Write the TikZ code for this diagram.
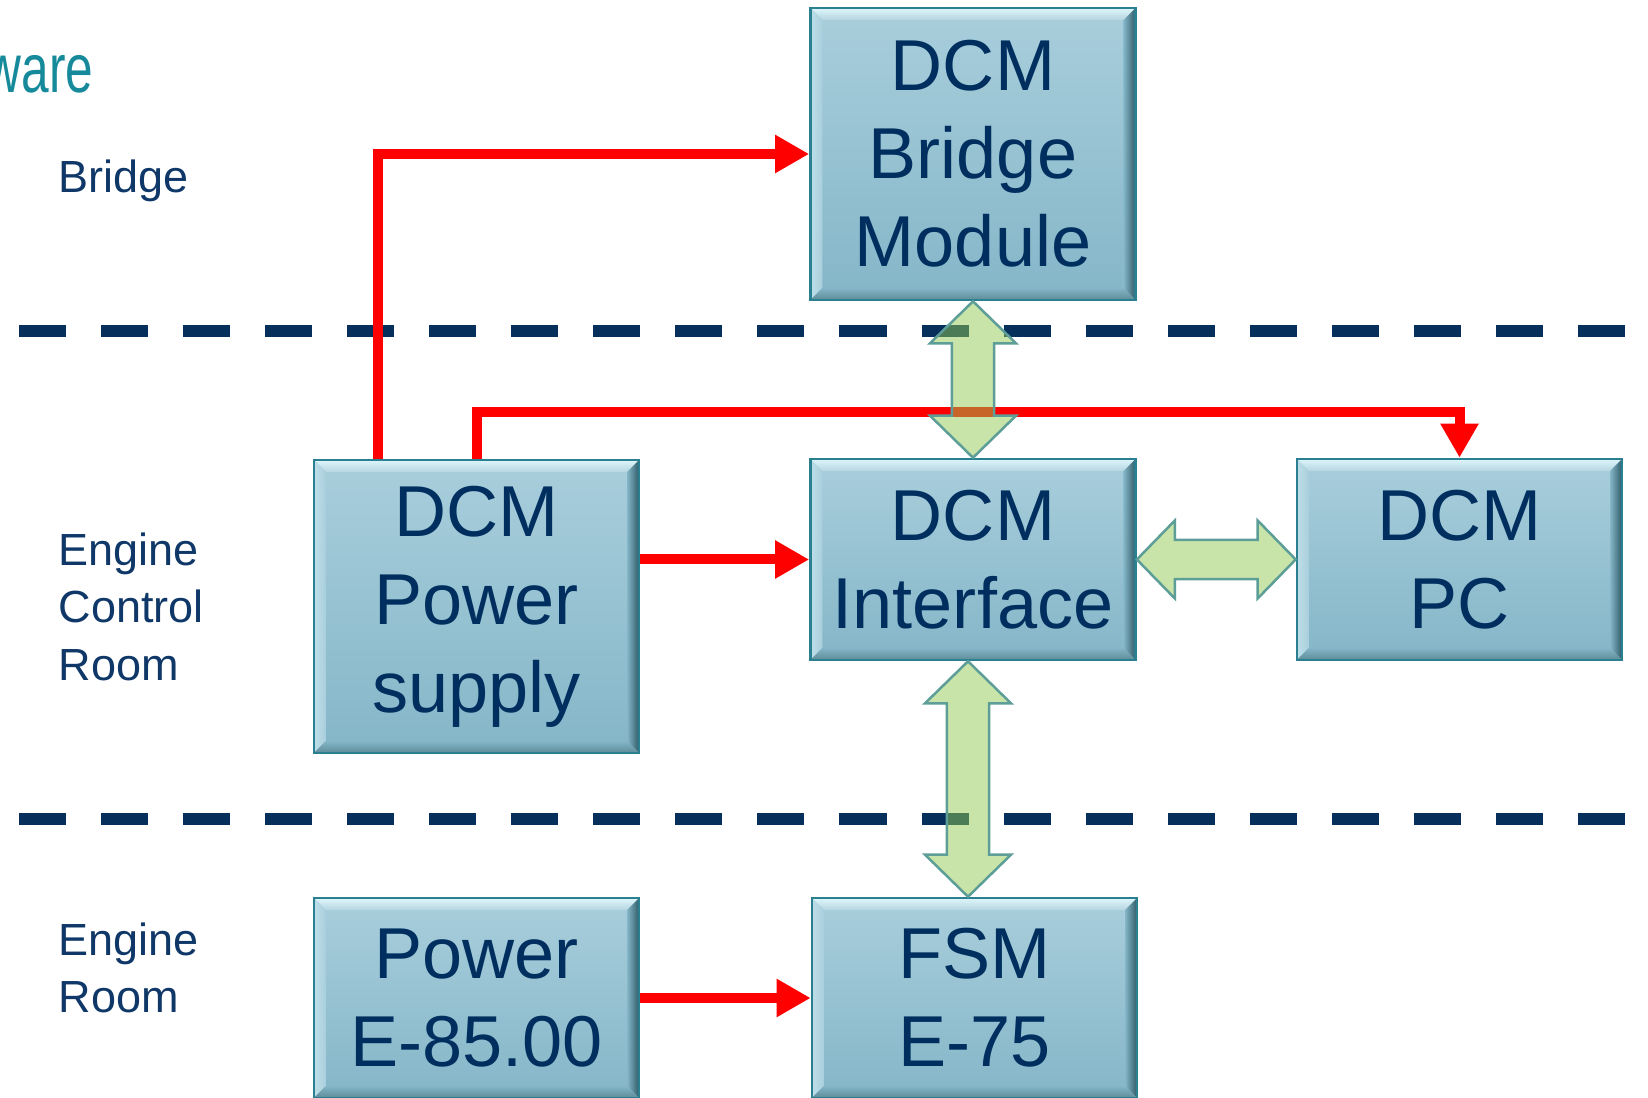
\documentclass[tikz,border=0pt]{standalone}
\usepackage{fontspec}
\setmainfont{Liberation Sans}
\newfontfamily\titlefont[FakeStretch=0.72]{Liberation Sans}
\usepackage{xcolor}
\usepackage{tikz}
\usetikzlibrary{arrows.meta, calc}

\definecolor{boxtop}{HTML}{A9CEDC}
\definecolor{boxbottom}{HTML}{84B6C8}
\definecolor{boxedge}{HTML}{2A8090}
\definecolor{boxtext}{HTML}{002F5F}
\definecolor{bevellight}{HTML}{DDF6FB}
\definecolor{bevelleft}{HTML}{BEDFE9}
\definecolor{bevelshade}{HTML}{2F5A66}
\definecolor{beveldark}{HTML}{5D8A96}
\definecolor{zonetext}{HTML}{0F3868}
\definecolor{titleteal}{HTML}{168A9B}
\definecolor{zoneline}{HTML}{062F5C}
\definecolor{linkgreen}{HTML}{91C951}
\definecolor{linkedge}{HTML}{5E9E98}

\newcommand\boxfont{\fontsize{20.5}{25}\selectfont}
\newcommand\zonefont{\fontsize{12.8}{16.35}\selectfont}

\tikzset{
  dcmbox/.style={draw=boxedge, line width=0.025cm, top color=boxtop, bottom color=boxbottom,
    minimum width=3.25cm, inner sep=0pt, align=center, text=boxtext, font=\boxfont,
    path picture={
      \coordinate (bnw) at (path picture bounding box.north west);
      \coordinate (bne) at (path picture bounding box.north east);
      \coordinate (bsw) at (path picture bounding box.south west);
      \coordinate (bse) at (path picture bounding box.south east);
      % bevelled rim
      \shade[top color=bevellight, bottom color=boxtop!85!white]
        (bnw) -- (bne) -- ([shift={(-0.12cm,-0.12cm)}]bne) -- ([shift={(0.12cm,-0.12cm)}]bnw) -- cycle;
      \shade[left color=bevelleft, right color=boxtop]
        (bnw) -- (bsw) -- ([shift={(0.12cm,0.12cm)}]bsw) -- ([shift={(0.12cm,-0.12cm)}]bnw) -- cycle;
      \shade[left color=boxbottom, right color=bevelshade]
        (bne) -- (bse) -- ([shift={(-0.12cm,0.12cm)}]bse) -- ([shift={(-0.12cm,-0.12cm)}]bne) -- cycle;
      \shade[top color=boxbottom, bottom color=beveldark]
        (bsw) -- (bse) -- ([shift={(-0.12cm,0.12cm)}]bse) -- ([shift={(0.12cm,0.12cm)}]bsw) -- cycle;
    }},
  feed/.style={draw=red, line width=0.1cm, -{Triangle[length=0.34cm,width=0.36cm]}},
  link/.style={draw=linkedge, fill=linkgreen, fill opacity=0.5, line width=0.025cm},
  zone/.style={anchor=north west, inner sep=0pt, align=left, text=zonetext, font=\zonefont},
  zoneline/.style={draw=zoneline, line width=0.12cm, dash pattern=on 0.47cm off 0.35cm},
}

% two-headed block arrows between boxes
\newcommand\vlink[2]{%
  \draw[link] let \p1=(#1), \p2=(#2) in
    (\x1,\y1) -- (\x1+0.43cm,\y1-0.42cm) -- (\x1+0.21cm,\y1-0.42cm)
    -- (\x1+0.21cm,\y2+0.42cm) -- (\x1+0.43cm,\y2+0.42cm) -- (\x1,\y2)
    -- (\x1-0.43cm,\y2+0.42cm) -- (\x1-0.21cm,\y2+0.42cm)
    -- (\x1-0.21cm,\y1-0.42cm) -- (\x1-0.43cm,\y1-0.42cm) -- cycle;}
\newcommand\hlink[2]{%
  \draw[link] let \p1=(#1), \p2=(#2) in
    (\x1,\y1) -- (\x1+0.38cm,\y1+0.39cm) -- (\x1+0.38cm,\y1+0.195cm)
    -- (\x2-0.38cm,\y1+0.195cm) -- (\x2-0.38cm,\y1+0.39cm) -- (\x2,\y1)
    -- (\x2-0.38cm,\y1-0.39cm) -- (\x2-0.38cm,\y1-0.195cm)
    -- (\x1+0.38cm,\y1-0.195cm) -- (\x1+0.38cm,\y1-0.39cm) -- cycle;}

\begin{document}
\begin{tikzpicture}[x=0.01cm, y=-0.01cm]
    \useasboundingbox (0,0) rectangle (1648,1098);
    \clip (0,0) rectangle (1648,1098);

    % Title and zones
    \node[anchor=base east, inner sep=0pt, text=titleteal, font=\titlefont\fontsize{19.6}{24}\selectfont] (title) at (94,93) {ware};
    \node[zone] (zbridge) at (58,159) {Bridge};
    \node[zone] (zecr) at (58,532) {Engine\\Control\\Room};
    \node[zone] (zer) at (58,922) {Engine\\Room};

    \draw[zoneline] (19,331) -- (1648,331);
    \draw[zoneline] (19,819) -- (1648,819);

    % Boxes
    \node[dcmbox, minimum height=2.92cm] (bridge) at (973,154) {DCM\\Bridge\\Module};
    \node[dcmbox, minimum height=2.93cm] (psu) at (476.5,606.5) {DCM\\Power\\supply};
    \node[dcmbox, minimum height=2.01cm] (iface) at (973,559.5) {DCM\\Interface};
    \node[dcmbox, minimum height=2.01cm] (pc) at (1459.5,559.5) {DCM\\PC};
    \node[dcmbox, minimum height=2.00cm] (pwr) at (476.5,998) {Power\\E-85.00};
    \node[dcmbox, minimum height=2.00cm] (fsm) at (974.5,998) {FSM\\E-75};

    % Supply lines
    \draw[feed] ($(psu.north west)!0.2!(psu.north east)$) |- (bridge.west);
    \draw[feed] (psu.north) |- ($(pc.north)+(0,-46)$) -- (pc.north);
    \draw[feed] (psu.east |- iface.west) -- (iface.west);
    \draw[feed] (pwr.east) -- (fsm.west);

    % Data links
    \vlink{bridge.south}{iface.north}
    \hlink{iface.east}{pc.west}
    \vlink{$(iface.south)+(-5,0)$}{$(fsm.north)+(-6,0)$}
\end{tikzpicture}
\end{document}
